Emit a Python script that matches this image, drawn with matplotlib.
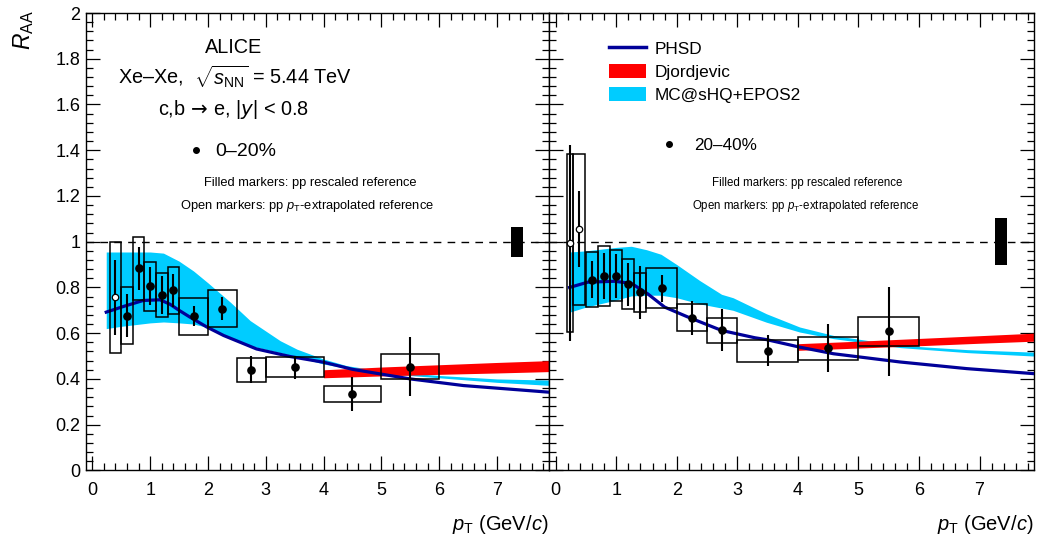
import matplotlib
matplotlib.use('Agg')
import matplotlib.pyplot as plt
from matplotlib.lines import Line2D
from matplotlib.patches import Patch
from matplotlib.ticker import MultipleLocator
import numpy as np

plt.rcParams['font.family'] = ['Liberation Sans', 'DejaVu Sans']
plt.rcParams['mathtext.fontset'] = 'custom'
plt.rcParams['mathtext.rm'] = 'Liberation Sans'
plt.rcParams['mathtext.it'] = 'Liberation Sans:italic'
plt.rcParams['mathtext.bf'] = 'Liberation Sans:bold'

# ---- data, 0-20% ----
pt_lo = [0.5, 0.7, 0.9, 1.1, 1.3, 1.5, 2.0, 2.5, 3.0, 4.0, 5.0]
pt_hi = [0.7, 0.9, 1.1, 1.3, 1.5, 2.0, 2.5, 3.0, 4.0, 5.0, 6.0]
pt = [0.6, 0.8, 1.0, 1.2, 1.4, 1.75, 2.25, 2.75, 3.5, 4.5, 5.5]

raa_c1 = [0.677, 0.883, 0.806, 0.767, 0.787, 0.674, 0.707, 0.440, 0.451, 0.335, 0.454]
stat_c1 = [0.095, 0.096, 0.083, 0.083, 0.073, 0.044, 0.051, 0.060, 0.050, 0.074, 0.129]
sys_c1 = [0.125, 0.136, 0.107, 0.098, 0.101, 0.081, 0.082, 0.053, 0.043, 0.036, 0.054]

open_lo_c1 = [0.3]
open_hi_c1 = [0.5]
open_pt_c1 = [0.39]
open_raa_c1 = [0.757]
open_stat_c1 = [0.165]
open_sys_c1 = [0.243]

# ---- data, 20-40% ----
raa_c2 = [0.834, 0.851, 0.851, 0.814, 0.779, 0.796, 0.668, 0.613, 0.523, 0.534, 0.608]
stat_c2 = [0.080, 0.100, 0.095, 0.095, 0.116, 0.060, 0.074, 0.091, 0.067, 0.104, 0.196]
sys_c2 = [0.120, 0.130, 0.112, 0.110, 0.086, 0.088, 0.060, 0.055, 0.049, 0.051, 0.062]

open_lo_c2 = [0.19, 0.28]
open_hi_c2 = [0.28, 0.49]
open_pt_c2 = [0.23, 0.38]
open_raa_c2 = [0.994, 1.055]
open_stat_c2 = [0.43, 0.167]
open_sys_c2 = [0.39, 0.33]

# normalisation uncertainty
norm_c1 = 0.065
norm_c2 = 0.104

# ---- models, 0-20% ----
mc_pt_c1 = [0.24, 0.5, 1.0, 1.23, 1.5, 1.75, 2.0, 2.39, 2.73, 3.25, 3.54, 4.0, 4.4, 5.0, 6.0, 7.0, 7.9]
mc_hi_c1 = [0.955, 0.955, 0.955, 0.95, 0.915, 0.872, 0.82, 0.735, 0.655, 0.567, 0.53, 0.487, 0.458, 0.435, 0.415, 0.40, 0.395]
mc_lo_c1 = [0.62, 0.63, 0.645, 0.649, 0.645, 0.64, 0.625, 0.583, 0.545, 0.515, 0.496, 0.465, 0.447, 0.425, 0.405, 0.385, 0.372]

phsd_pt_c1 = [0.24, 0.54, 0.88, 1.17, 1.34, 1.5, 1.69, 1.98, 2.27, 2.84, 3.42, 4.0, 4.5, 5.5, 6.42, 7.9]
phsd_c1 = [0.692, 0.717, 0.743, 0.746, 0.727, 0.70, 0.67, 0.627, 0.59, 0.531, 0.498, 0.473, 0.442, 0.40, 0.371, 0.342]

dj_pt = [4.0, 5.0, 6.0, 7.0, 7.9]
dj_hi_c1 = [0.44, 0.452, 0.462, 0.472, 0.48]
dj_lo_c1 = [0.405, 0.413, 0.42, 0.426, 0.432]

# ---- models, 20-40% ----
mc_pt_c2 = [0.23, 0.5, 1.0, 1.25, 1.5, 1.74, 2.0, 2.38, 2.74, 2.93, 3.48, 4.03, 4.59, 5.69, 6.8, 7.9]
mc_hi_c2 = [0.955, 0.96, 0.975, 0.98, 0.965, 0.945, 0.90, 0.83, 0.77, 0.755, 0.685, 0.627, 0.59, 0.547, 0.528, 0.517]
mc_lo_c2 = [0.692, 0.714, 0.745, 0.763, 0.766, 0.766, 0.755, 0.728, 0.71, 0.70, 0.648, 0.605, 0.576, 0.537, 0.515, 0.50]

phsd_pt_c2 = [0.23, 0.53, 0.97, 1.25, 1.52, 1.8, 2.19, 2.74, 3.29, 3.48, 4.03, 4.59, 5.69, 6.79, 7.9]
phsd_c2 = [0.80, 0.823, 0.827, 0.818, 0.772, 0.714, 0.67, 0.612, 0.58, 0.572, 0.539, 0.51, 0.474, 0.445, 0.423]

dj_hi_c2 = [0.554, 0.565, 0.577, 0.589, 0.60]
dj_lo_c2 = [0.525, 0.535, 0.545, 0.556, 0.565]

CYAN = '#00ccff'
RED = '#ff0000'
NAVY = '#000099'

W, H = 1038, 543
fig = plt.figure(figsize=(W / 100, H / 100), dpi=100)
axL = fig.add_axes([86 / W, 1 - 470.4 / H, 463 / W, 457.4 / H])
axR = fig.add_axes([549 / W, 1 - 470.4 / H, 485 / W, 457.4 / H])


def draw_panel(ax, mc_pt, mc_lo, mc_hi, dj_lo, dj_hi, phsd_pt, phsd,
               raa, stat, sysu, o_lo, o_hi, o_pt, o_raa, o_stat, o_sys, norm):
    ax.fill_between(mc_pt, mc_lo, mc_hi, color=CYAN, lw=0, zorder=1)
    ax.fill_between(dj_pt, dj_lo, dj_hi, color=RED, lw=0, zorder=2)
    ax.plot(phsd_pt, phsd, color=NAVY, lw=2.3, zorder=3)
    ax.axhline(1.0, color='k', lw=1.0, ls=(0, (5.5, 4.5)), zorder=2)

    lo = np.array(pt_lo)
    hi = np.array(pt_hi)
    r = np.array(raa)
    s = np.array(sysu)
    ax.bar(lo, 2 * s, width=hi - lo, bottom=r - s, align='edge', fill=False,
           edgecolor='k', lw=1.1, zorder=4)
    ax.errorbar(pt, raa, yerr=stat, fmt='o', color='k', ms=5.2,
                elinewidth=1.5, capsize=0, zorder=5)

    olo = np.array(o_lo)
    ohi = np.array(o_hi)
    orr = np.array(o_raa)
    osy = np.array(o_sys)
    ax.bar(olo, 2 * osy, width=ohi - olo, bottom=orr - osy, align='edge',
           fill=False, edgecolor='k', lw=1.1, zorder=4)
    ax.errorbar(o_pt, o_raa, yerr=o_stat, fmt='o', color='k', mfc='white',
                mec='k', mew=0.9, ms=4.6, elinewidth=1.5, capsize=0, zorder=5)

    ax.bar([7.35], [2 * norm], width=0.2, bottom=[1 - norm], color='k',
           lw=0, zorder=4)

    ax.set_xlim(-0.11, 7.9)
    ax.set_ylim(0, 2)
    ax.xaxis.set_major_locator(MultipleLocator(1))
    ax.xaxis.set_minor_locator(MultipleLocator(0.2))
    ax.yaxis.set_major_locator(MultipleLocator(0.2))
    ax.yaxis.set_minor_locator(MultipleLocator(0.04))
    ax.tick_params(which='both', direction='in', top=True, right=True,
                   width=0.9, labelsize=13)
    ax.tick_params(which='major', length=10)
    ax.tick_params(which='minor', length=5)
    ax.tick_params(axis='x', pad=8)
    ax.tick_params(axis='y', pad=4)
    for sp in ax.spines.values():
        sp.set_linewidth(1.0)
    ax.set_xticks([0, 1, 2, 3, 4, 5, 6, 7])
    ax.set_xticklabels(['0', '1', '2', '3', '4', '5', '6', '7'])


draw_panel(axL, mc_pt_c1, mc_lo_c1, mc_hi_c1, dj_lo_c1, dj_hi_c1,
           phsd_pt_c1, phsd_c1, raa_c1, stat_c1, sys_c1,
           open_lo_c1, open_hi_c1, open_pt_c1, open_raa_c1, open_stat_c1,
           open_sys_c1, norm_c1)
draw_panel(axR, mc_pt_c2, mc_lo_c2, mc_hi_c2, dj_lo_c2, dj_hi_c2,
           phsd_pt_c2, phsd_c2, raa_c2, stat_c2, sys_c2,
           open_lo_c2, open_hi_c2, open_pt_c2, open_raa_c2, open_stat_c2,
           open_sys_c2, norm_c2)

axL.set_yticks(np.arange(0, 2.01, 0.2))
axL.set_yticklabels(['0', '0.2', '0.4', '0.6', '0.8', '1', '1.2', '1.4',
                     '1.6', '1.8', '2'])
axR.tick_params(axis='y', labelleft=False)

# axis titles
fig.text(24 / W, 1 - 10 / H, r'$R_{\rm AA}$', rotation=90, ha='center',
         va='top', fontsize=16.5)
fig.text(548 / W, 1 - 525 / H, r'$p_{\rm T}$ (GeV/$c$)', ha='right',
         va='center', fontsize=14.5)
fig.text(1033 / W, 1 - 525 / H, r'$p_{\rm T}$ (GeV/$c$)', ha='right',
         va='center', fontsize=14.5)

# left panel labels
axL.text(0.318, 0.9256, 'ALICE', transform=axL.transAxes, ha='center',
         va='center', fontsize=14.3)
axL.text(0.322, 0.861, r'Xe–Xe,  $\sqrt{s_{\rm NN}}$ = 5.44 TeV',
         transform=axL.transAxes, ha='center', va='center', fontsize=14.3)
axL.text(0.318, 0.788, r'c,b $\!\rightarrow\!$ e, |$y$| < 0.8',
         transform=axL.transAxes, ha='center', va='center', fontsize=14.3,
         math_fontfamily='dejavusans')
axL.text(0.484, 0.628, 'Filled markers: pp rescaled reference',
         transform=axL.transAxes, ha='center', va='center', fontsize=9.3)
axL.text(0.478, 0.577, r'Open markers: pp $p_{\rm T}$-extrapolated reference',
         transform=axL.transAxes, ha='center', va='center', fontsize=9.3)

axR.text(0.532, 0.628, 'Filled markers: pp rescaled reference',
         transform=axR.transAxes, ha='center', va='center', fontsize=8.3)
axR.text(0.530, 0.577, r'Open markers: pp $p_{\rm T}$-extrapolated reference',
         transform=axR.transAxes, ha='center', va='center', fontsize=8.3)

dot = Line2D([], [], marker='o', ls='none', color='k', ms=4)
legL = axL.legend([dot], ['0–20%'], loc='center left',
                  bbox_to_anchor=(0.2175, 0.697), frameon=False, fontsize=14,
                  handlelength=1.0, handletextpad=0.45, borderpad=0,
                  borderaxespad=0)

legR1 = axR.legend([Line2D([], [], color=NAVY, lw=2.5),
                    Patch(facecolor=RED, edgecolor='none'),
                    Patch(facecolor=CYAN, edgecolor='none')],
                   ['PHSD', 'Djordjevic', 'MC@sHQ+EPOS2'],
                   loc='center left', bbox_to_anchor=(0.1237, 0.8717),
                   frameon=False, fontsize=12.4, handlelength=2.16,
                   handleheight=0.85, handletextpad=0.48, labelspacing=0.42,
                   borderpad=0, borderaxespad=0)
axR.add_artist(legR1)
axR.legend([Line2D([], [], marker='o', ls='none', color='k', ms=4)],
           ['20–40%'], loc='center left', bbox_to_anchor=(0.229, 0.711),
           frameon=False, fontsize=12.3, handlelength=1.0,
           handletextpad=1.0, borderpad=0, borderaxespad=0)

fig.savefig('out.png', dpi=100)
